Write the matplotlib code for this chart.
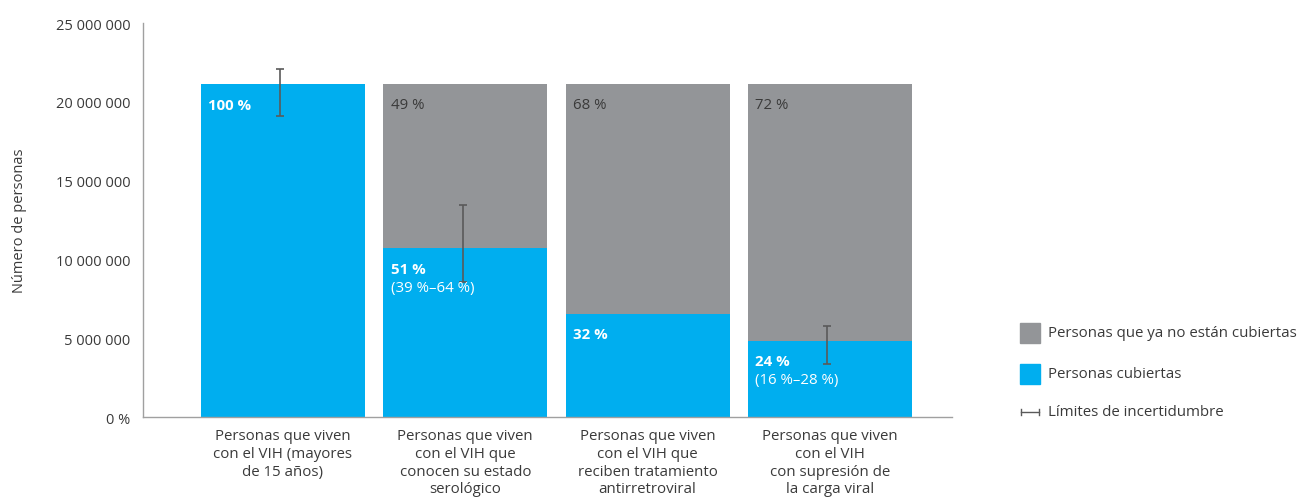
import numpy as np
import matplotlib.pyplot as plt
from matplotlib.patches import Rectangle
from matplotlib.lines import Line2D

plt.rcParams['font.family'] = ['Open Sans', 'DejaVu Sans']

categories = ['Personas que viven\ncon el VIH (mayores\nde 15 años)',
              'Personas que viven\ncon el VIH que\nconocen su estado\nserológico',
              'Personas que viven\ncon el VIH que\nreciben tratamiento\nantirretroviral',
              'Personas que viven\ncon el VIH\ncon supresión de\nla carga viral']
total = [21.1e6, 21.1e6, 21.1e6, 21.1e6]
covered = [21.1e6, 10.7e6, 6.55e6, 4.85e6]
pct_covered = ['100 %', '51 %', '32 %', '24 %']
pct_range = ['', '(39 %–64 %)', '', '(16 %–28 %)']
pct_gap = ['', '49 %', '68 %', '72 %']
err_low = [19.1e6, 8.55e6, np.nan, 3.35e6]
err_high = [22.1e6, 13.45e6, np.nan, 5.75e6]
yticks = [0, 5e6, 10e6, 15e6, 20e6, 25e6]
ytick_labels = ['0 %', '5 000 000', '10 000 000', '15 000 000', '20 000 000', '25 000 000']

blue = '#00AEEF'
grey = '#939598'
txt = '#3a3a3a'
fs = 10.8

fig = plt.figure(figsize=(13.01, 5.02), dpi=100)
ax = fig.add_axes([143/1301, 1-418/502, (952-143)/1301, (418-24)/502])

x = np.arange(len(categories))
w = 0.9
ax.bar(x, total, width=w, color=grey, zorder=1)
ax.bar(x, covered, width=w, color=blue, zorder=2)

for i in range(len(x)):
    if not np.isnan(err_low[i]):
        mid = (err_low[i] + err_high[i]) / 2
        ax.errorbar(x[i] - 0.015, mid, yerr=(err_high[i] - err_low[i]) / 2,
                    fmt='none', ecolor='#5a5a5a', elinewidth=1.2, capsize=3, capthick=1.2, zorder=4)
    left = x[i] - w / 2 + 0.04
    ax.text(left, covered[i] - 1.3e6, pct_covered[i], color='white', fontsize=fs,
            fontweight='bold', va='center', ha='left', zorder=5)
    if pct_range[i]:
        ax.text(left, covered[i] - 2.5e6, pct_range[i], color='white', fontsize=fs,
                va='center', ha='left', zorder=5)
    if pct_gap[i]:
        ax.text(left, total[i] - 1.3e6, pct_gap[i], color=txt, fontsize=fs,
                va='center', ha='left', zorder=5)

ax.set_xlim(-0.768, 3.67)
ax.set_ylim(0, 25e6)
ax.set_yticks(yticks)
ax.set_yticklabels(ytick_labels, fontsize=10.5, color=txt)
ax.set_xticks(x)
ax.set_xticklabels(categories, fontsize=fs, color=txt, linespacing=1.25, va='top')
ax.tick_params(axis='both', length=0, pad=9)
ax.tick_params(axis='x', pad=8)
for s in ['top', 'right']:
    ax.spines[s].set_visible(False)
for s in ['left', 'bottom']:
    ax.spines[s].set_color('#a0a0a0')
    ax.spines[s].set_linewidth(1)
ax.set_ylabel('Número de personas', fontsize=10.5, color=txt)
ax.yaxis.set_label_coords(-0.143, 0.5)

# legend
fig.patches.append(Rectangle((1020/1301, 1-344/502), 20/1301, 20/502,
                             transform=fig.transFigure, color=grey))
fig.patches.append(Rectangle((1020/1301, 1-385/502), 20/1301, 20/502,
                             transform=fig.transFigure, color=blue))
fig.lines.append(Line2D([1021/1301, 1039/1301], [1-413/502, 1-413/502],
                        transform=fig.transFigure, color='#5a5a5a', lw=1))
for xx in (1021/1301, 1039/1301):
    fig.lines.append(Line2D([xx, xx], [1-410/502, 1-416/502],
                            transform=fig.transFigure, color='#5a5a5a', lw=1))
fig.text(1048/1301, 1-334/502, 'Personas que ya no están cubiertas', fontsize=fs, color=txt, va='center')
fig.text(1048/1301, 1-375/502, 'Personas cubiertas', fontsize=fs, color=txt, va='center')
fig.text(1048/1301, 1-413/502, 'Límites de incertidumbre', fontsize=fs, color=txt, va='center')

fig.savefig('out.png', dpi=100)
